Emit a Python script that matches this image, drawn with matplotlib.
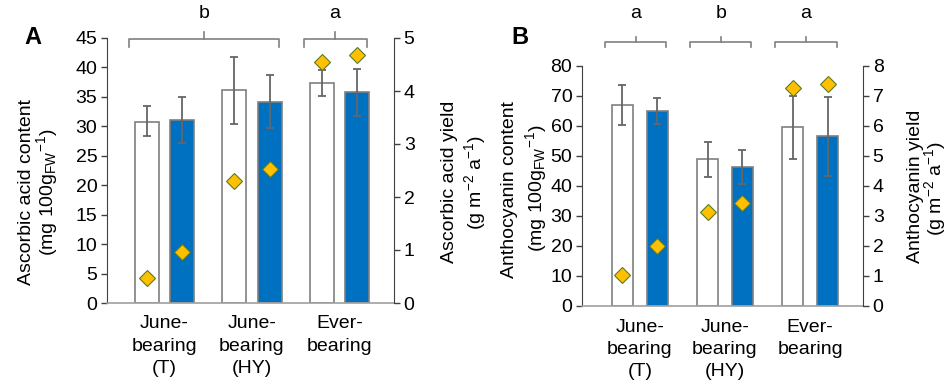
import matplotlib
matplotlib.use("Agg")
import matplotlib.pyplot as plt
import numpy as np

plt.rcParams['font.family'] = ['Liberation Sans', 'DejaVu Sans']
plt.rcParams['mathtext.fontset'] = 'custom'
plt.rcParams['mathtext.rm'] = 'Liberation Sans'
plt.rcParams['mathtext.it'] = 'Liberation Sans:italic'

# ---------------- data ----------------
categories = ["June-\nbearing\n(T)", "June-\nbearing\n(HY)", "Ever-\nbearing"]

# Panel A: ascorbic acid
asc_white = [30.8, 36.1, 37.3]
asc_white_err_lo = [2.5, 5.7, 2.1]
asc_white_err_hi = [2.6, 5.7, 2.3]
asc_blue = [31.1, 34.2, 35.8]
asc_blue_err_lo = [4.0, 4.4, 4.1]
asc_blue_err_hi = [3.8, 4.5, 3.9]
asc_yield_white = [0.48, 2.30, 4.54]
asc_yield_blue = [0.96, 2.53, 4.68]
asc_brackets = [(0, 1, "b"), (2, 2, "a")]

# Panel B: anthocyanin
ant_white = [67.0, 48.9, 59.7]
ant_white_err_lo = [6.7, 5.8, 10.7]
ant_white_err_hi = [6.7, 5.9, 10.4]
ant_blue = [65.0, 46.4, 56.7]
ant_blue_err_lo = [4.4, 5.8, 13.4]
ant_blue_err_hi = [4.4, 5.5, 13.1]
ant_yield_white = [1.02, 3.12, 7.28]
ant_yield_blue = [2.01, 3.42, 7.40]
ant_brackets = [(0, 0, "a"), (1, 1, "b"), (2, 2, "a")]

W, H = 950, 388
fig = plt.figure(figsize=(W / 100, H / 100), dpi=100)

def px_axes(l, r, t, b):
    return fig.add_axes([l / W, (H - b) / H, (r - l) / W, (b - t) / H])

BLUE = '#0070C0'
GOLD = '#FFC000'
EDGE = '#7F7F7F'
ERR = '#666666'
FS = 14

def panel(ax, white, wlo, whi, blue, blo, bhi, yw, yb, ymax, ystep, y2max,
          xlim, width, off, brackets, br_y):
    x = np.arange(len(categories))
    ax.bar(x - off, white, width, color='white', edgecolor=EDGE, linewidth=1.2, zorder=2)
    ax.bar(x + off, blue, width, color=BLUE, edgecolor=EDGE, linewidth=1.2, zorder=2)
    ax.errorbar(x - off, white, yerr=[wlo, whi], fmt='none', ecolor=ERR,
                elinewidth=1.3, capsize=3, capthick=1.3, zorder=3)
    ax.errorbar(x + off, blue, yerr=[blo, bhi], fmt='none', ecolor=ERR,
                elinewidth=1.3, capsize=3, capthick=1.3, zorder=3)
    ax.set_xlim(*xlim)
    ax.set_ylim(0, ymax)
    ax.set_yticks(np.arange(0, ymax + 0.01, ystep))
    ax.set_xticks(x)
    ax.set_xticklabels(categories, fontsize=FS, linespacing=1.4)
    ax.tick_params(axis='x', length=0, pad=9)
    ax.tick_params(axis='y', labelsize=FS, length=4, width=1, color='#404040', pad=3)
    for s in ['top', 'right']:
        ax.spines[s].set_visible(False)
    ax.spines['left'].set_color('#404040')
    ax.spines['bottom'].set_color('#A0A0A0')
    ax.spines['bottom'].set_linewidth(1.2)

    ax2 = ax.twinx()
    ax2.set_ylim(0, y2max)
    ax2.set_yticks(np.arange(0, y2max + 0.01, 1))
    ax2.tick_params(axis='y', labelsize=FS, length=4, width=1, color='#404040', pad=3)
    for s in ['top', 'left', 'bottom']:
        ax2.spines[s].set_visible(False)
    ax2.spines['right'].set_color('#404040')
    ax2.plot(x - off, yw, linestyle='none', marker='D', ms=8, mfc=GOLD,
             mec='#5C7A29', mew=0.8, zorder=5, clip_on=False)
    ax2.plot(x + off, yb, linestyle='none', marker='D', ms=8, mfc=GOLD,
             mec='#5C7A29', mew=0.8, zorder=5, clip_on=False)

    trans = ax.get_xaxis_transform()
    y_line, y_end, y_tick, y_lab = br_y
    for g0, g1, lab in brackets:
        xl = g0 - 0.41
        xr = g1 + 0.31
        xc = (xl + xr) / 2
        ax.plot([xl, xl, xr, xr], [y_end, y_line, y_line, y_end], transform=trans,
                color='#808080', lw=1.2, clip_on=False)
        ax.plot([xc, xc], [y_line, y_tick], transform=trans,
                color='#808080', lw=1.2, clip_on=False)
        ax.text(xc, y_lab, lab, transform=trans, ha='center', va='center', fontsize=FS)
    return ax2

axA = px_axes(107, 394, 38, 303)
panel(axA, asc_white, asc_white_err_lo, asc_white_err_hi,
      asc_blue, asc_blue_err_lo, asc_blue_err_hi,
      asc_yield_white, asc_yield_blue, 45, 5, 5,
      (-0.657, 2.623), 0.27, 0.203, asc_brackets,
      (0.995, 0.966, 1.023, 1.094))

axB = px_axes(582, 863, 66, 306)
panel(axB, ant_white, ant_white_err_lo, ant_white_err_hi,
      ant_blue, ant_blue_err_lo, ant_blue_err_hi,
      ant_yield_white, ant_yield_blue, 80, 10, 8,
      (-0.678, 2.62), 0.25, 0.205, ant_brackets,
      (1.101, 1.080, 1.122, 1.217))

def ftext(xp, yp, s, **kw):
    fig.text(xp / W, 1 - yp / H, s, rotation=90, ha='center', va='center',
             fontsize=FS, **kw)

unit_fw = r'(mg 100g$_\mathregular{FW}$$^\mathregular{-1}$)'
unit_yield = r'(g m$^\mathregular{-2}$ a$^\mathregular{-1}$)'

ftext(27, 192, 'Ascorbic acid content')
ftext(47, 192, unit_fw)
ftext(450, 182, 'Ascorbic acid yield')
ftext(475, 182, unit_yield)
ftext(510, 190, 'Anthocyanin content')
ftext(536, 188, unit_fw)
ftext(916, 186, 'Anthocyanin yield')
ftext(935, 188, unit_yield)

fig.text(33 / W, 1 - 37 / H, 'A', fontsize=17, fontweight='bold', ha='center', va='center')
fig.text(520 / W, 1 - 37 / H, 'B', fontsize=17, fontweight='bold', ha='center', va='center')

fig.savefig('out.png', dpi=100)
